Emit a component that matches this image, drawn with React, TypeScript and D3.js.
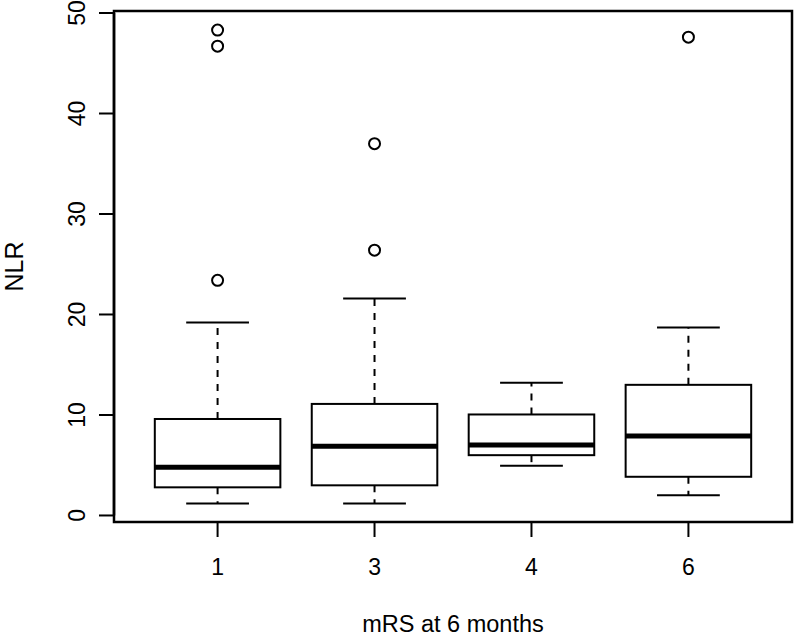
import React from "react";
import { useEffect, useRef } from "react";
import * as d3 from "d3";

// boxplot stats per group
const groups = ["1", "3", "4", "6"];
const lowerWhisker = [1.2, 1.2, 4.95, 2.0];
const q1 = [2.8, 3.0, 6.0, 3.85];
const median = [4.8, 6.9, 7.0, 7.9];
const q3 = [9.6, 11.1, 10.05, 13.0];
const upperWhisker = [19.2, 21.6, 13.2, 18.7];
const outliers = [[23.4, 46.7, 48.3], [26.4, 37.0], [], [47.6]];
const yTicks = [0, 10, 20, 30, 40, 50];

const App = () => {
  const svgRef = useRef<SVGSVGElement>(null);

  useEffect(() => {
    const w = 800;
    const h = 637;
    const left = 114, right = 792, top = 11, bottom = 522;
    const font = "'Liberation Sans', Arial, sans-serif";

    const svg = d3.select(svgRef.current).attr("width", w).attr("height", h);
    svg.selectAll("*").remove();
    svg.append("rect").attr("width", w).attr("height", h).attr("fill", "#fff");

    // R style: xlim c(0.5, n+0.5) plus 4% each side
    const xScale = d3.scaleLinear().domain([0.34, 4.66]).range([left, right]);
    const yScale = d3.scaleLinear().domain([-0.65, 50.2]).range([bottom, top]);
    const unit = xScale(2) - xScale(1);
    const boxW = unit * 0.8;
    const capW = boxW / 2;

    const g = svg.append("g");

    groups.forEach((name, i) => {
      const cx = xScale(i + 1);
      // whiskers
      g.append("line")
        .attr("x1", cx).attr("x2", cx)
        .attr("y1", yScale(q3[i])).attr("y2", yScale(upperWhisker[i]))
        .attr("stroke", "#000").attr("stroke-width", 2)
        .attr("stroke-dasharray", "7,7");
      g.append("line")
        .attr("x1", cx).attr("x2", cx)
        .attr("y1", yScale(q1[i])).attr("y2", yScale(lowerWhisker[i]))
        .attr("stroke", "#000").attr("stroke-width", 2)
        .attr("stroke-dasharray", "7,7");
      // caps
      [upperWhisker[i], lowerWhisker[i]].forEach((v) => {
        g.append("line")
          .attr("x1", cx - capW / 2).attr("x2", cx + capW / 2)
          .attr("y1", yScale(v)).attr("y2", yScale(v))
          .attr("stroke", "#000").attr("stroke-width", 2);
      });
      // box
      g.append("rect")
        .attr("x", cx - boxW / 2)
        .attr("y", yScale(q3[i]))
        .attr("width", boxW)
        .attr("height", yScale(q1[i]) - yScale(q3[i]))
        .attr("fill", "#fff")
        .attr("stroke", "#000").attr("stroke-width", 2);
      // median
      g.append("line")
        .attr("x1", cx - boxW / 2).attr("x2", cx + boxW / 2)
        .attr("y1", yScale(median[i])).attr("y2", yScale(median[i]))
        .attr("stroke", "#000").attr("stroke-width", 5);
      // outliers
      g.selectAll(".out" + i)
        .data(outliers[i])
        .join("circle")
        .attr("cx", cx)
        .attr("cy", (d) => yScale(d))
        .attr("r", 5.5)
        .attr("fill", "none")
        .attr("stroke", "#000")
        .attr("stroke-width", 2);
    });

    // frame
    svg.append("rect")
      .attr("x", left).attr("y", top)
      .attr("width", right - left).attr("height", bottom - top)
      .attr("fill", "none").attr("stroke", "#000").attr("stroke-width", 2.5);

    // y axis
    const yAxis = svg.append("g");
    yAxis.append("line")
      .attr("x1", left).attr("x2", left)
      .attr("y1", yScale(0)).attr("y2", yScale(50))
      .attr("stroke", "#000").attr("stroke-width", 2.5);
    yTicks.forEach((t) => {
      yAxis.append("line")
        .attr("x1", left - 15).attr("x2", left)
        .attr("y1", yScale(t)).attr("y2", yScale(t))
        .attr("stroke", "#000").attr("stroke-width", 2);
      yAxis.append("text")
        .attr("transform", `translate(85,${yScale(t)}) rotate(-90)`)
        .attr("text-anchor", "middle")
        .style("font-family", font)
        .style("font-size", "23px")
        .text(t);
    });

    // x axis
    groups.forEach((name, i) => {
      const cx = xScale(i + 1);
      svg.append("line")
        .attr("x1", cx).attr("x2", cx)
        .attr("y1", bottom).attr("y2", bottom + 15)
        .attr("stroke", "#000").attr("stroke-width", 2);
      svg.append("text")
        .attr("x", cx).attr("y", 575)
        .attr("text-anchor", "middle")
        .style("font-family", font)
        .style("font-size", "23px")
        .text(name);
    });

    svg.append("text")
      .attr("x", (left + right) / 2).attr("y", 632)
      .attr("text-anchor", "middle")
      .style("font-family", font)
      .style("font-size", "23.5px")
      .text("mRS at 6 months");

    svg.append("text")
      .attr("transform", `translate(23,${(top + bottom) / 2}) rotate(-90)`)
      .attr("text-anchor", "middle")
      .style("font-family", font)
      .style("font-size", "25px")
      .text("NLR");
  }, []);

  return (
    <svg ref={svgRef} style={{ position: "absolute", left: 0, top: 0, display: "block" }}></svg>
  );
};

export default App;
